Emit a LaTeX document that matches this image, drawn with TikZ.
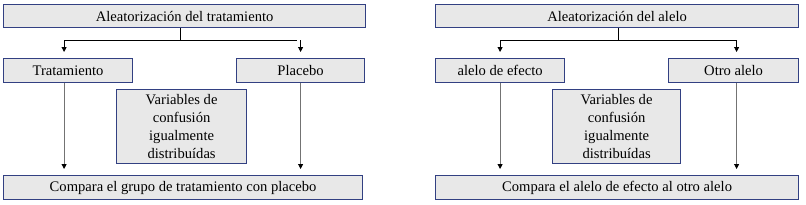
\documentclass[tikz,border=0pt]{standalone}
\usepackage{fontspec}
\setmainfont{Liberation Serif}
\usetikzlibrary{arrows.meta}
\definecolor{boxline}{RGB}{50,64,130}
\definecolor{boxfill}{RGB}{232,232,232}
\begin{document}
\begin{tikzpicture}[x=1pt,y=-1pt,
  box/.style={draw=boxline, line width=1.2pt, fill=boxfill, inner sep=0pt, anchor=north west,
    font=\fontsize{14.6}{17.8}\selectfont, align=center},
  conn/.style={black, line width=0.9pt},
  arr/.style={line width=0.9pt, -{Triangle[width=5pt,length=5pt,color=black]}, shorten >=6pt},
]
\useasboundingbox (0,0) rectangle (806,204);
% left panel
\node[box, minimum width=362pt, minimum height=23pt] (topL) at (3,4) {Aleatorización del tratamiento};
\node[box, minimum width=129pt, minimum height=24pt] (aL) at (3,58) {Tratamiento};
\node[box, minimum width=128pt, minimum height=24pt] (bL) at (236,58) {Placebo};
\node[box, minimum width=130pt, minimum height=74pt] (vL) at (116,89) {Variables de\\confusión\\igualmente\\distribuídas};
\node[box, minimum width=359pt, minimum height=24pt] (cL) at (3,175) {Compara el grupo de tratamiento con placebo};
\coordinate (jL) at (180,40);
\draw[conn] (topL.south -| jL) -- (jL);
\draw[conn] ([xshift=-4pt]aL.north |- jL) -- ([xshift=-4pt]bL.north |- jL);
\draw[arr] ([xshift=-4pt]aL.north |- jL) -- ([xshift=-4pt]aL.north);
\draw[arr] (bL.north |- jL) -- (bL.north);
\draw[arr, black!55] ([xshift=-4pt]aL.south) -- ([xshift=-4pt]aL.south |- cL.north);
\draw[arr, black!55] (bL.south) -- (bL.south |- cL.north);
% right panel
\node[box, minimum width=363pt, minimum height=23pt] (topR) at (435,4) {Aleatorización del alelo};
\node[box, minimum width=129pt, minimum height=24pt] (aR) at (435,58) {alelo de efecto};
\node[box, minimum width=130pt, minimum height=24pt] (bR) at (668,58) {Otro alelo};
\node[box, minimum width=128pt, minimum height=74pt] (vR) at (552,89) {Variables de\\confusión\\igualmente\\distribuídas};
\node[box, minimum width=363pt, minimum height=24pt] (cR) at (435,175) {Compara el alelo de efecto al otro alelo};
\coordinate (jR) at (618,40);
\draw[conn] (topR.south -| jR) -- (jR);
\draw[conn] (aR.north |- jR) -- ([xshift=3pt]bR.north |- jR);
\draw[arr] (aR.north |- jR) -- (aR.north);
\draw[arr] ([xshift=3pt]bR.north |- jR) -- ([xshift=3pt]bR.north);
\draw[arr, black!55] (aR.south) -- (aR.south |- cR.north);
\draw[arr, black!55] ([xshift=3pt]bR.south) -- ([xshift=3pt]bR.south |- cR.north);
\end{tikzpicture}
\end{document}
